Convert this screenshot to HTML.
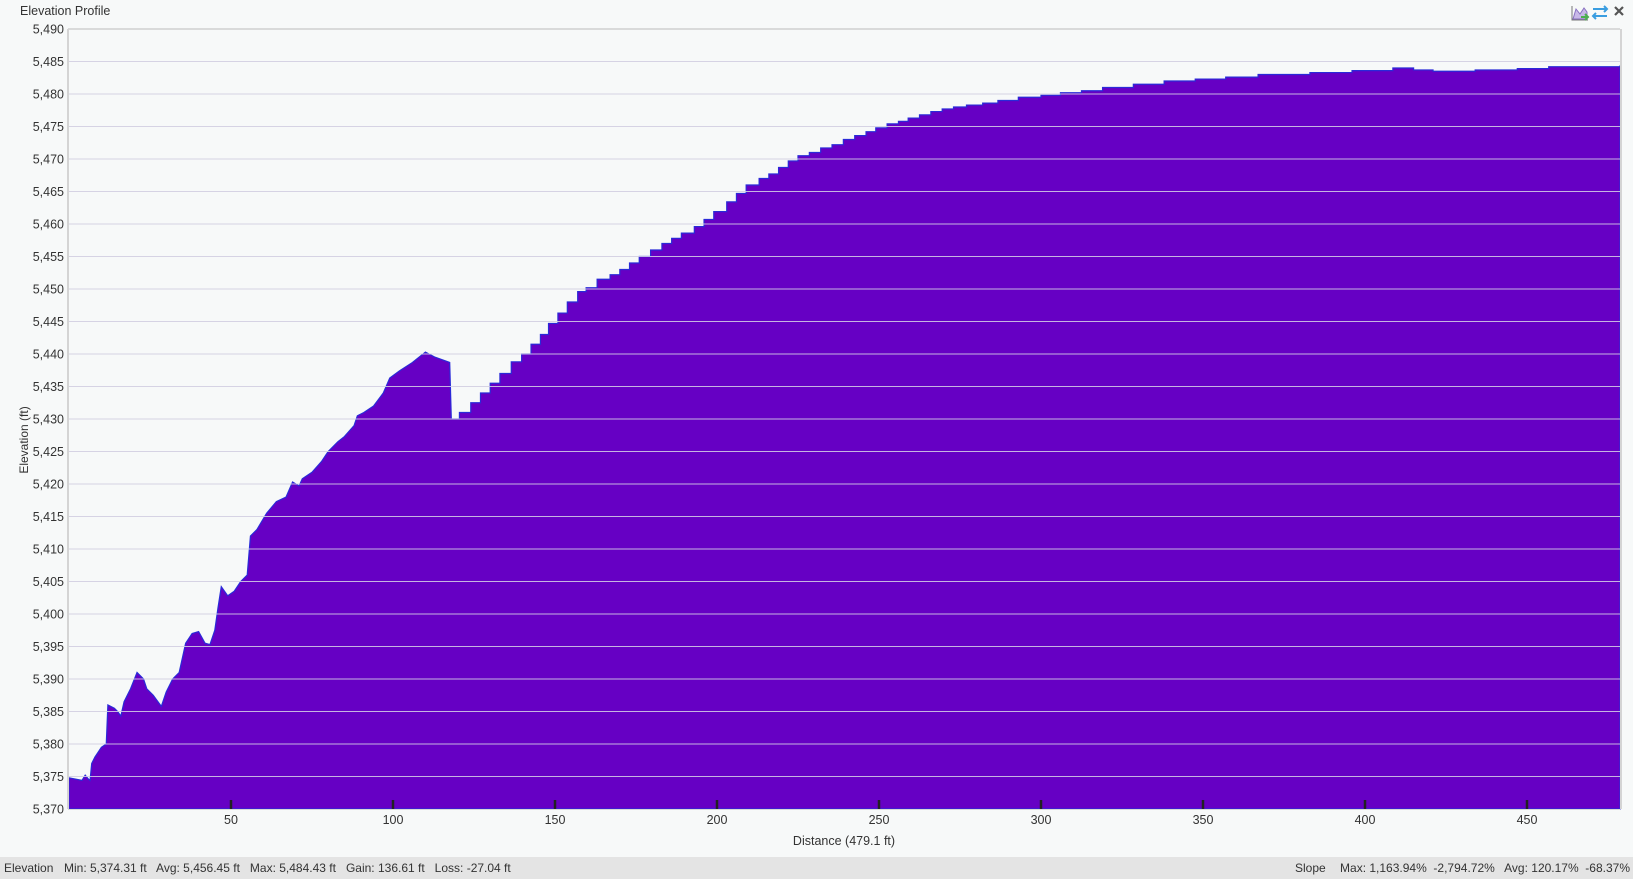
<!DOCTYPE html>
<html><head><meta charset="utf-8"><style>
body{margin:0;width:1633px;height:879px;background:#f7f9f9;font-family:"Liberation Sans",sans-serif;overflow:hidden;position:relative}
#title{position:absolute;left:20px;top:4px;font-size:12.5px;color:#333}
#status{position:absolute;left:0;top:857px;width:1633px;height:22px;background:#e4e4e4;font-size:12px;color:#333}
#status span{position:absolute;top:4px;white-space:pre}
</style></head><body>
<div id="title">Elevation Profile</div>
<svg id="icons" width="100" height="30" style="position:absolute;left:1560px;top:0">
 <g><path d="M12 6 V20 H28" stroke="#777" fill="none"/><path d="M13 19 L16 9 L20 14 L24 8 L27 12 V19 Z" fill="#c8b8e8" stroke="#8870c0"/><path d="M21 17 H28 M25 14 L28 17 L25 20" stroke="#4caf50" stroke-width="2" fill="none"/></g>
 <g stroke="#3a9de0" stroke-width="2" fill="none"><path d="M33 9 H47 M44 6 L47 9 L44 12"/><path d="M47 16 H33 M36 13 L33 16 L36 19"/></g>
 <g stroke="#555" stroke-width="2.2"><path d="M55 7 L63 15 M63 7 L55 15"/></g>
</svg>
<svg id="chart" width="1633" height="857" style="position:absolute;left:0;top:0"></svg>
<div id="status">
 <span style="left:4px">Elevation</span>
 <span style="left:64px">Min: 5,374.31 ft   Avg: 5,456.45 ft   Max: 5,484.43 ft   Gain: 136.61 ft   Loss: -27.04 ft</span>
 <span style="left:1295px">Slope</span>
 <span style="right:3px">Max: 1,163.94%  -2,794.72%   Avg: 120.17%  -68.37%</span>
</div>
<script>
const dist=[0,3,4,5,6,6.5,7,8,10,11.5,12,14,15,16,17,19,21,23,24,26,28.5,30,32,34,36,38,40,42,43.5,45,46,47,49,51,53,55,56,58,61,64,67,69,71,72,75,78,80,83,85,88,89,91,94,97,99,102,106,110,113,117.5,118,120,120.5,124,127,130,133,136.5,139.7,142.6,145.5,148,150.9,153.8,157,159.6,163,167,170,173,176,179.5,183,186,189,193,196,199,203,206,209,213,216,219,222,225,228.5,232,235.5,239,242.5,246,249,252.5,256,259,262.5,266,269.5,273,277,282,286.7,293,300,306,312.5,319,328.5,338,347.6,357,367,383,396,408.6,415,421,434,447,456.7,466,479.1];
const elev=[5374.8,5374.5,5374.4,5375.2,5374.6,5374.4,5377,5378,5379.5,5380,5386,5385.5,5385,5384.3,5386.5,5388.5,5391,5390,5388.5,5387.5,5385.8,5388,5390,5391,5395.5,5397,5397.3,5395.5,5395.3,5397.5,5401,5404.2,5402.8,5403.5,5405,5406,5412,5413,5415.5,5417.3,5418,5420.3,5419.7,5420.8,5421.8,5423.5,5425,5426.5,5427.3,5429,5430.5,5431,5432,5434,5436.3,5437.4,5438.7,5440.3,5439.5,5438.7,5430,5430,5431,5432.5,5434,5435.5,5437,5438.8,5440,5441.5,5443,5444.7,5446.3,5448,5449.6,5450.2,5451.5,5452.2,5453,5454,5455,5456,5457,5457.8,5458.6,5459.6,5460.7,5461.9,5463.4,5464.7,5466,5467,5467.7,5468.7,5469.7,5470.5,5471,5471.7,5472.2,5473,5473.6,5474.2,5474.8,5475.4,5475.8,5476.3,5476.8,5477.3,5477.7,5478,5478.3,5478.6,5479,5479.5,5479.8,5480.2,5480.5,5481,5481.5,5482,5482.3,5482.6,5483,5483.3,5483.6,5484,5483.7,5483.5,5483.7,5483.9,5484.2,5484.2,5484.4];
const yTicks=[5370,5375,5380,5385,5390,5395,5400,5405,5410,5415,5420,5425,5430,5435,5440,5445,5450,5455,5460,5465,5470,5475,5480,5485,5490];
const xTicks=[50,100,150,200,250,300,350,400,450];
const stepFrom=120;
const L=68,R=1620,T=29,B=809,X0=69,XS=3.24;
const x=d=>X0+d*XS, y=v=>B-(v-5370)*(B-T)/120;
const svg=document.getElementById('chart'),NS='http://www.w3.org/2000/svg';
function mk(t,a,p){const e=document.createElementNS(NS,t);for(const k in a)e.setAttribute(k,a[k]);(p||svg).appendChild(e);return e;}
const fmt=v=>v.toLocaleString('en-US');
yTicks.forEach(v=>{const g=mk('line',{x1:L,x2:R,y1:y(v),y2:y(v),stroke:'#cfcfcf','stroke-width':1});

});
let d='M'+x(0)+','+B;let pv=null;
dist.forEach((dd,i)=>{const xx=Math.min(x(dd),R);
 if(dd>stepFrom&&pv!==null){d+=' L'+xx+','+y(pv);} d+=' L'+xx+','+y(elev[i]);pv=elev[i];});
d+=' L'+R+','+y(pv)+' L'+R+','+B+' Z';
const a=mk('path',{d:d,fill:'#6600c4',stroke:'#2a2ad8','stroke-width':1.2});


yTicks.forEach(v=>{if(v===5370||v===5490)return;const g=mk('line',{x1:L,x2:R,y1:y(v),y2:y(v),stroke:'#d8d4e8','stroke-width':1,opacity:0.85});

});
mk('line',{x1:L,x2:R,y1:T,y2:T,stroke:'#cfcfcf','stroke-width':1.5});
mk('line',{x1:L,x2:L,y1:T,y2:B,stroke:'#d4d4d4','stroke-width':2});
mk('line',{x1:R+1,x2:R+1,y1:T,y2:B,stroke:'#d4d4d4','stroke-width':2});
mk('line',{x1:L,x2:R,y1:B+0.5,y2:B+0.5,stroke:'#d8d8d8','stroke-width':1});
yTicks.forEach(v=>{const t=mk('text',{x:64,y:y(v)+4.5,'text-anchor':'end','font-size':12.5,fill:'#333'});t.textContent=fmt(v);

});
xTicks.forEach(v=>{const k=mk('line',{x1:x(v),x2:x(v),y1:B-9,y2:B,stroke:'#222','stroke-width':2.5});


const t=mk('text',{x:x(v),y:B+15,'text-anchor':'middle','font-size':12.5,fill:'#333'});t.textContent=v;

});
const xt=mk('text',{x:844,y:845,'text-anchor':'middle','font-size':12.5,fill:'#333'});xt.textContent='Distance (479.1 ft)';


const yt=mk('text',{x:0,y:0,'text-anchor':'middle','font-size':12,fill:'#333',transform:'translate(28,440) rotate(-90)'});yt.textContent='Elevation (ft)';


</script>
</body></html>
